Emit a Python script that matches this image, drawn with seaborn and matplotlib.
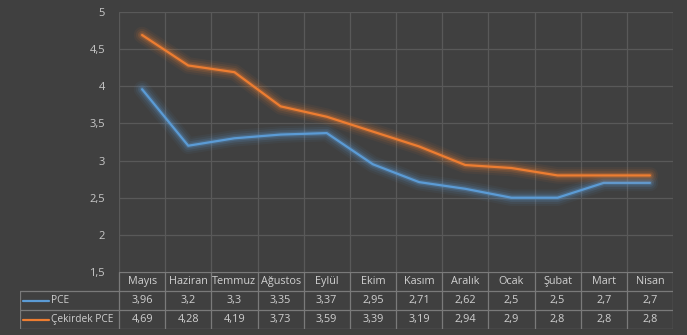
import matplotlib
matplotlib.use("Agg")
import matplotlib.pyplot as plt
import matplotlib.patheffects as pe
import seaborn as sns
import pandas as pd

months = ["Mayıs", "Haziran", "Temmuz", "Ağustos", "Eylül", "Ekim", "Kasım",
          "Aralık", "Ocak", "Şubat", "Mart", "Nisan"]
pce = [3.96, 3.2, 3.3, 3.35, 3.37, 2.95, 2.71, 2.62, 2.5, 2.5, 2.7, 2.7]
core_pce = [4.69, 4.28, 4.19, 3.73, 3.59, 3.39, 3.19, 2.94, 2.9, 2.8, 2.8, 2.8]
series_names = ["PCE", "Çekirdek PCE"]
yticks = [1.5, 2, 2.5, 3, 3.5, 4, 4.5, 5]

BG = "#404040"
GRID = "#595959"
TXT = "#d0d0d0"
BLUE = "#5b9bd5"
ORANGE = "#ed7d31"
FONT = ["Open Sans", "DejaVu Sans"]

sns.set_theme(style="dark")
plt.rcParams["font.family"] = FONT

W, H = 687, 335
fig = plt.figure(figsize=(W / 100, H / 100), dpi=100, facecolor=BG)

L, R, T, B = 119, 673, 12, 272
ax = fig.add_axes([L / W, 1 - B / H, (R - L) / W, (B - T) / H])
ax.set_facecolor(BG)

df = pd.DataFrame({
    "x": list(range(len(months))) * 2,
    "value": pce + core_pce,
    "series": [series_names[0]] * len(months) + [series_names[1]] * len(months),
})
sns.lineplot(data=df, x="x", y="value", hue="series",
             palette=[BLUE, ORANGE], linewidth=1.6, legend=False, ax=ax)
for line, c in zip(ax.get_lines(), [BLUE, ORANGE]):
    line.set_path_effects([
        pe.Stroke(linewidth=12, foreground=c, alpha=0.06),
        pe.Stroke(linewidth=9, foreground=c, alpha=0.09),
        pe.Stroke(linewidth=6, foreground=c, alpha=0.15),
        pe.Stroke(linewidth=3.5, foreground=c, alpha=0.25),
        pe.Normal(),
    ])

n = len(months)
ax.set_xlim(-0.5, n - 0.5)
ax.set_ylim(1.5, 5)
ax.set_yticks(yticks)
ax.set_yticklabels([f"{v:g}".replace(".", ",") for v in yticks], color="#c8c8c8", fontsize=8)
ax.set_xticks([])
ax.set_xlabel("")
ax.set_ylabel("")
ax.tick_params(axis="y", length=0, pad=10)
for v in yticks:
    ax.axhline(v, color=GRID, lw=0.9, zorder=0)
for i in range(n + 1):
    ax.axvline(i - 0.5, color=GRID, lw=0.9, zorder=0)
for s in ax.spines.values():
    s.set_visible(False)

# data table
TL, TT, TB = 20, 272, 329
cw = (R - L) / n
tab = fig.add_axes([TL / W, 1 - TB / H, (R - TL) / W, (TB - TT) / H])
tab.set_facecolor(BG)
x0 = -0.5 - (L - TL) / cw
tab.set_xlim(x0, n - 0.5)
tab.axis("off")
rows_y = [0, 291 - TT, 310 - TT, TB - TT]
tab.set_ylim(TB - TT, 0)
lc = "#7a7a7a"
lw = 0.9
tab.plot([-0.5, n - 0.5], [rows_y[0]] * 2, color=lc, lw=lw)
for yy in rows_y[1:]:
    tab.plot([x0, n - 0.5], [yy, yy], color=lc, lw=lw)
for i in range(n + 1):
    tab.plot([i - 0.5, i - 0.5], [rows_y[0], rows_y[3]], color=lc, lw=lw)
tab.plot([x0 + 0.01, x0 + 0.01], [rows_y[1], rows_y[3]], color=lc, lw=lw)

fs = 7.8
for i, m in enumerate(months):
    tab.text(i, (rows_y[0] + rows_y[1]) / 2, m, ha="center", va="center", color=TXT, fontsize=fs)
for r, (vals, name, c) in enumerate(zip([pce, core_pce], series_names, [BLUE, ORANGE])):
    yc = (rows_y[r + 1] + rows_y[r + 2]) / 2
    for i, v in enumerate(vals):
        tab.text(i, yc, f"{v:g}".replace(".", ","), ha="center", va="center", color=TXT, fontsize=fs)
    gx0 = x0 + 3 / cw
    gx1 = x0 + 29 / cw
    tab.plot([gx0, gx1], [yc, yc], color=c, lw=1.6)
    tab.text(x0 + 31 / cw, yc, name, ha="left", va="center", color=TXT, fontsize=7.3)

fig.savefig("out.png", dpi=100, facecolor=BG)
